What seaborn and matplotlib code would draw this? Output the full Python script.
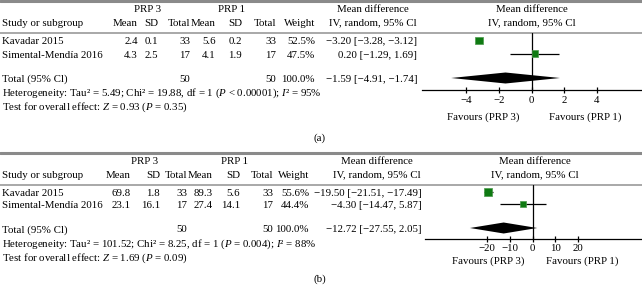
import matplotlib
matplotlib.use("Agg")
import matplotlib.pyplot as plt
import seaborn as sns
import pandas as pd

# ---- data (panel a) ----
studies = ["Kavadar 2015", "Simental-Mendía 2016"]
a_mean3 = ["2.4", "4.3"]
a_sd3 = ["0.1", "2.5"]
a_n3 = [33, 17]
a_mean1 = ["5.6", "4.1"]
a_sd1 = ["0.2", "1.9"]
a_n1 = [33, 17]
a_weight = [52.5, 47.5]
a_md = [-3.20, 0.20]
a_lo = [-3.28, -1.29]
a_hi = [-3.12, 1.69]
a_tot = [-1.59, -4.91, 1.74]
a_md_txt = ["−3.20 [−3.28, −3.12]", "0.20 [−1.29, 1.69]", "−1.59 [−4.91, −1.74]"]
a_het = "Heterogeneity: Tau² = 5.49; Chi² = 19.88, df = 1 ($P$ < 0.00001); $I$² = 95%"
a_test = "Test for overall effect: $Z$ = 0.93 ($P$ = 0.35)"
a_ticks = [-4, -2, 0, 2, 4]

# ---- data (panel b) ----
b_mean3 = ["69.8", "23.1"]
b_sd3 = ["1.8", "16.1"]
b_n3 = [33, 17]
b_mean1 = ["89.3", "27.4"]
b_sd1 = ["5.6", "14.1"]
b_n1 = [33, 17]
b_weight = [55.6, 44.4]
b_md = [-19.50, -4.30]
b_lo = [-21.51, -14.47]
b_hi = [-17.49, 5.87]
b_tot = [-12.72, -27.55, 2.05]
b_md_txt = ["−19.50 [−21.51, −17.49]", "−4.30 [−14.47, 5.87]", "−12.72 [−27.55, 2.05]"]
b_het = "Heterogeneity: Tau² = 101.52; Chi² = 8.25, df = 1 ($P$ = 0.004); $I$² = 88%"
b_test = "Test for overall effect: $Z$ = 1.69 ($P$ = 0.09)"
b_ticks = [-20, -10, 0, 10, 20]

sns.set_theme(style="white")
plt.rcParams["font.family"] = ["Liberation Serif", "DejaVu Serif"]
plt.rcParams["mathtext.fontset"] = "custom"
plt.rcParams["mathtext.rm"] = "Liberation Serif"
plt.rcParams["mathtext.it"] = "Liberation Serif:italic"

W, H = 642, 294
FS = 7.8
GREEN = "#0f7a12"

fig = plt.figure(figsize=(W / 100, H / 100), dpi=100)
bg = fig.add_axes([0, 0, 1, 1])
bg.set_xlim(0, W)
bg.set_ylim(H, 0)
bg.axis("off")


def txt(x, y, s, ha="left", **kw):
    bg.text(x, y, s, ha=ha, va="center", fontsize=FS, color="black", **kw)


def panel(top, lay, mean3, sd3, n3, mean1, sd1, n1, weight, md, lo, hi, tot,
          md_txt, het, test, ticks, xlim, label):
    cols, rows = lay["cols"], lay["rows"]
    bg.axhline(top, color="#8a8a8a", lw=2.2)
    bg.axhline(top + 32, color="#9a9a9a", lw=1.2)
    # headers
    txt(lay["prp3"], top + 9, "PRP 3", ha="center")
    txt(lay["prp1"], top + 9, "PRP 1", ha="center")
    txt(2, top + 23, "Study or subgroup")
    for x, h in zip(cols, ["Mean", "SD", "Total", "Mean", "SD", "Total", "Weight"]):
        txt(x, top + 23, h, ha="right")
    txt(lay["mdc"], top + 9, "Mean difference", ha="center")
    txt(lay["mdc"], top + 22, "IV, random, 95% Cl", ha="center")
    txt(lay["fc"], top + 9, "Mean difference", ha="center")
    txt(lay["fc"], top + 22, "IV, random, 95% Cl", ha="center")
    # study rows
    for i, s in enumerate(studies):
        y = rows[i]
        txt(2, y, s)
        vals = [mean3[i], sd3[i], str(n3[i]), mean1[i], sd1[i], str(n1[i]),
                f"{weight[i]:.1f}%"]
        for x, v in zip(cols, vals):
            txt(x, y, v, ha="right")
        txt(lay["mdr"], y, md_txt[i], ha="right")
    y = rows[2]
    txt(2, y, "Total (95% Cl)")
    txt(cols[2], y, str(sum(n3)), ha="right")
    txt(cols[5], y, str(sum(n1)), ha="right")
    txt(cols[6], y, f"{sum(weight):.1f}%", ha="right")
    txt(lay["mdr"], y, md_txt[2], ha="right")
    txt(2, rows[3], het)
    txt(2, rows[4], test)
    txt(lay["fav3"], lay["favy"], "Favours (PRP 3)", ha="center")
    txt(lay["fav1"], lay["favy"], "Favours (PRP 1)", ha="center")
    txt(320, lay["laby"], label, ha="center")

    # forest axes
    x0, x1 = lay["ax_x"]
    y0, y1 = top + 32, lay["ax_bot"]
    ax = fig.add_axes([x0 / W, 1 - y1 / H, (x1 - x0) / W, (y1 - y0) / H])
    step = lay["step"]
    sq = lay["sq"]
    df = pd.DataFrame({"md": md, "row": [0, 1], "w": weight})
    ax.hlines(df["row"], lo, hi, color="black", lw=0.9)
    sns.scatterplot(data=df, x="md", y="row", size="w", sizes=lay["sizes"],
                    marker="s", color=GREEN, edgecolor="#4c9a4c", linewidth=0.5,
                    legend=False, ax=ax, zorder=3)
    ty = lay["tot_row"]
    hh = 5.5 / step
    ax.fill([tot[1], tot[0], tot[2], tot[0]], [ty, ty - hh, ty, ty + hh],
            color="black", lw=0)
    ax.axvline(0, color="black", lw=0.9)
    ax.set_xlim(*xlim)
    ax.set_ylim((y1 - sq) / step, (y0 - sq) / step)
    ax.set_xticks(ticks)
    ax.set_xticklabels([f"{t}".replace("-", "−") for t in ticks], fontsize=FS)
    ax.set_yticks([])
    ax.set_xlabel("")
    ax.set_ylabel("")
    for side in ["top", "right", "left"]:
        ax.spines[side].set_visible(False)
    ax.spines["bottom"].set_color("black")
    ax.spines["bottom"].set_linewidth(0.9)
    ax.tick_params(axis="x", direction="inout", length=5, width=0.9,
                   pad=lay["pad"], colors="black", bottom=True)
    ax.patch.set_alpha(0)


lay_a = dict(cols=[138, 158, 190, 216, 242, 276, 315], rows=[42, 56, 79, 93, 107],
             prp3=148, prp1=232, mdc=373, mdr=417, fc=532,
             fav3=483, fav1=585, favy=117, laby=138,
             ax_x=(422, 642), ax_bot=90, step=13, sq=40.5, tot_row=(78 - 40.5) / 13,
             sizes=(22, 28), pad=1.5)
panel(1, lay_a, a_mean3, a_sd3, a_n3, a_mean1, a_sd1, a_n1, a_weight, a_md,
      a_lo, a_hi, a_tot, a_md_txt, a_het, a_test, a_ticks, (-6.69, 6.75), "(a)")

lay_b = dict(cols=[131, 160, 187, 213, 240, 273, 309], rows=[193, 206, 230, 244, 258],
             prp3=145, prp1=235, mdc=377, mdr=422, fc=535,
             fav3=488, fav1=582, favy=261, laby=279,
             ax_x=(425, 642), ax_bot=239, step=12, sq=192, tot_row=(228 - 192) / 12,
             sizes=(22, 34), pad=0.8)
panel(153, lay_b, b_mean3, b_sd3, b_n3, b_mean1, b_sd1, b_n1, b_weight, b_md,
      b_lo, b_hi, b_tot, b_md_txt, b_het, b_test, b_ticks, (-47.3, 48.1), "(b)")

fig.savefig("out.png", dpi=100)
